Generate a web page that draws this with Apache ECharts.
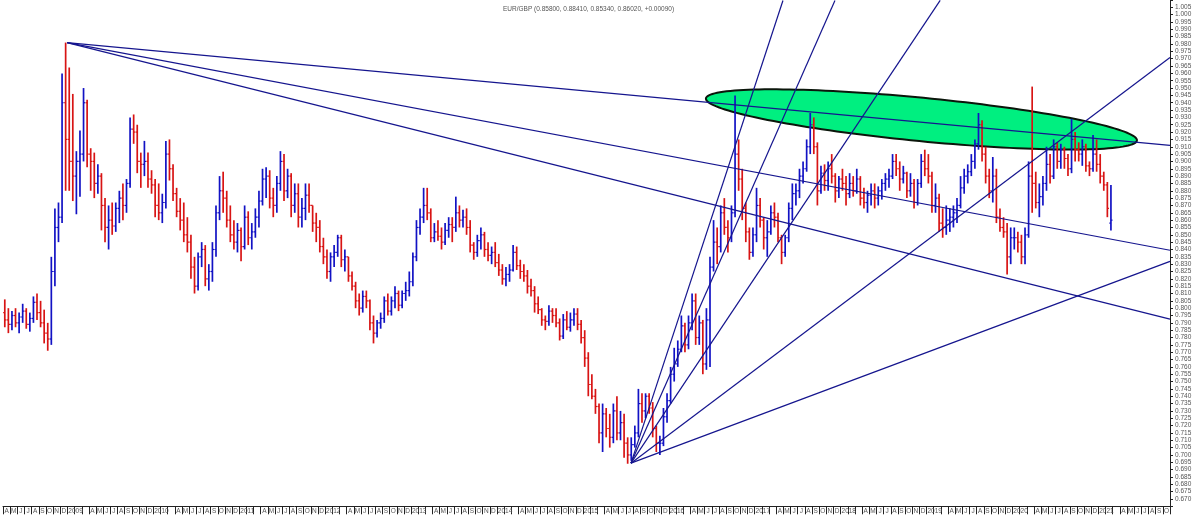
<!DOCTYPE html>
<html><head><meta charset="utf-8">
<script src="https://cdn.jsdelivr.net/npm/echarts@6/dist/echarts.min.js"></script>
<style>html,body{margin:0;padding:0;background:#fff;}#c{width:1195px;height:515px;}</style>
</head><body><div id="c"></div>
<script>
// ---------- DATA ----------
const titleText = 'EUR/GBP (0.85800, 0.88410, 0.85340, 0.86020, +0.00090)';
const firstYear = 2008, firstMonth = 4;   // April 2008
const monthCount = 163;                   // Apr 2008 .. Oct 2021
const monthLetters = ['J','F','M','A','M','J','J','A','S','O','N','D'];

// half-monthly bars from Apr 2008 to Feb 2021
const opens = [
.797,.792,.789,.795,.790,.794,.798,.789,.793,.804,.797,.790,.783,.779,.825,.855,.862,.940,
.915,.900,.890,.900,.905,.940,.905,.900,.885,.890,.870,.855,.860,.856,.868,.875,.870,.885,.922,.920,.900,.898,.900,.888,
.884,.870,.865,.872,.905,.895,.878,.866,.860,.850,.845,.828,.815,.835,.840,.820,.825,.840,.865,.880,.875,.860,.850,.845,
.853,.842,.862,.848,.852,.862,.873,.888,.890,.875,.870,.885,.900,.880,.890,.870,.878,.862,.868,.877,.870,.858,.855,.842,
.835,.825,.835,.838,.848,.833,.835,.822,.815,.805,.800,.808,.805,.790,.783,.790,.793,.805,.798,.805,.810,.802,.810,.812,
.818,.835,.855,.862,.870,.865,.848,.852,.849,.845,.853,.857,.855,.865,.860,.862,.855,.843,.838,.846,.850,.840,.836,.838,
.831,.826,.820,.823,.826,.838,.829,.825,.822,.815,.812,.803,.799,.792,.791,.798,.795,.790,.781,.792,.787,.792,.796,.789,
.780,.766,.748,.740,.733,.715,.728,.718,.712,.730,.715,.722,.708,.700,.707,.715,.735,.730,.740,.732,.718,.708,.708,.726,
.737,.755,.762,.772,.788,.775,.790,.805,.780,.790,.762,.792,.828,.845,.842,.865,.855,.848,.865,.905,.888,.868,.852,.838,
.850,.870,.860,.848,.852,.865,.862,.848,.838,.848,.868,.878,.880,.890,.895,.910,.925,.910,.880,.892,.887,.895,.890,.880,
.888,.885,.878,.885,.880,.888,.875,.872,.877,.880,.875,.880,.885,.888,.890,.900,.895,.888,.892,.880,.885,.872,.885,.900,
.895,.890,.870,.875,.858,.855,.860,.862,.865,.870,.882,.890,.893,.900,.912,.925,.905,.890,.880,.890,.862,.855,.852,.835,
.848,.848,.845,.835,.850,.890,.885,.872,.876,.885,.898,.890,.910,.900,.908,.902,.895,.915,.908,.905,.910,.897,.895,.905,
.898,.890,.884,.858
];
const highs = [
.806,.800,.798,.800,.797,.803,.800,.797,.808,.810,.805,.799,.790,.835,.868,.872,.960,.981,
.964,.946,.907,.921,.950,.942,.909,.906,.898,.892,.875,.870,.872,.872,.880,.885,.888,.930,.932,.925,.906,.914,.906,.894,
.888,.885,.878,.914,.915,.898,.882,.875,.872,.862,.850,.835,.838,.845,.843,.830,.845,.870,.890,.893,.880,.870,.860,.858,
.855,.870,.866,.858,.868,.880,.895,.896,.894,.882,.890,.907,.905,.895,.892,.885,.885,.875,.885,.885,.870,.865,.860,.848,
.840,.838,.843,.850,.850,.840,.835,.825,.818,.810,.812,.812,.806,.795,.792,.797,.808,.810,.808,.815,.812,.812,.818,.825,
.838,.860,.868,.882,.882,.868,.858,.860,.855,.858,.862,.862,.876,.870,.867,.868,.860,.845,.850,.855,.852,.845,.842,.845,
.837,.830,.828,.830,.843,.842,.833,.830,.826,.820,.815,.808,.800,.795,.802,.800,.800,.793,.796,.798,.797,.800,.800,.792,
.785,.770,.755,.745,.735,.735,.732,.728,.735,.740,.730,.728,.712,.712,.720,.745,.742,.742,.742,.736,.720,.713,.732,.742,
.760,.773,.778,.795,.790,.795,.810,.810,.795,.792,.800,.835,.860,.855,.870,.875,.860,.870,.945,.915,.895,.872,.855,.855,
.882,.875,.862,.860,.870,.872,.865,.850,.850,.872,.885,.885,.895,.900,.915,.933,.930,.913,.897,.898,.900,.905,.892,.890,
.895,.890,.892,.890,.895,.890,.882,.880,.885,.885,.883,.888,.892,.895,.905,.905,.900,.897,.893,.892,.888,.888,.905,.908,
.905,.893,.885,.878,.868,.870,.868,.870,.875,.890,.895,.898,.905,.915,.933,.928,.910,.895,.903,.895,.868,.862,.858,.855,
.855,.852,.850,.855,.900,.951,.893,.885,.890,.910,.905,.915,.913,.912,.910,.905,.929,.920,.913,.915,.912,.900,.918,.915,
.905,.893,.886,.884
];
const lows = [
.787,.783,.785,.787,.783,.790,.786,.784,.790,.792,.787,.776,.771,.775,.815,.845,.858,.880,
.880,.873,.864,.876,.900,.896,.880,.875,.878,.853,.845,.840,.850,.852,.858,.860,.865,.882,.912,.892,.882,.890,.882,.878,
.862,.860,.858,.868,.887,.873,.862,.853,.845,.838,.820,.810,.812,.828,.815,.812,.818,.835,.860,.865,.855,.845,.840,.838,
.832,.840,.843,.840,.848,.855,.870,.875,.868,.862,.865,.880,.873,.875,.862,.865,.855,.855,.860,.865,.852,.845,.838,.830,
.820,.818,.828,.835,.828,.825,.818,.812,.800,.795,.797,.800,.785,.776,.780,.786,.790,.795,.795,.800,.798,.800,.805,.808,
.815,.832,.850,.858,.860,.845,.845,.846,.840,.843,.848,.845,.852,.855,.855,.850,.838,.833,.835,.840,.835,.832,.830,.828,
.822,.816,.815,.818,.825,.826,.820,.818,.810,.808,.797,.796,.788,.785,.788,.790,.787,.778,.779,.785,.784,.788,.785,.776,
.760,.740,.738,.728,.708,.702,.712,.705,.708,.710,.710,.698,.694,.696,.705,.712,.722,.725,.728,.712,.702,.700,.706,.722,
.735,.750,.760,.770,.770,.772,.785,.775,.775,.755,.758,.760,.825,.830,.838,.850,.838,.845,.862,.880,.860,.845,.833,.835,
.845,.855,.840,.835,.850,.855,.845,.830,.835,.845,.860,.870,.875,.885,.893,.905,.905,.870,.878,.880,.880,.885,.872,.875,
.880,.870,.875,.876,.878,.870,.868,.865,.870,.868,.870,.874,.880,.882,.888,.890,.880,.885,.875,.876,.868,.870,.882,.890,
.885,.865,.865,.852,.848,.850,.852,.855,.858,.868,.878,.885,.890,.895,.908,.900,.885,.875,.872,.858,.852,.848,.823,.830,
.840,.838,.830,.830,.848,.865,.868,.862,.870,.880,.885,.888,.895,.895,.895,.890,.892,.900,.900,.897,.893,.890,.893,.893,
.885,.880,.862,.853
];
const closes = [
.792,.789,.795,.790,.794,.798,.789,.793,.804,.797,.790,.783,.779,.825,.855,.862,.940,.915,
.900,.890,.900,.905,.940,.905,.900,.885,.890,.870,.855,.860,.856,.868,.875,.870,.885,.922,.920,.900,.898,.900,.888,.884,
.870,.865,.872,.905,.895,.878,.866,.860,.850,.845,.828,.815,.835,.840,.820,.825,.840,.865,.880,.875,.860,.850,.845,.853,
.842,.862,.848,.852,.862,.873,.888,.890,.875,.870,.885,.900,.880,.890,.870,.878,.862,.868,.877,.870,.858,.855,.842,.835,
.825,.835,.838,.848,.833,.835,.822,.815,.805,.800,.808,.805,.790,.783,.790,.793,.805,.798,.805,.810,.802,.810,.812,.818,
.835,.855,.862,.870,.865,.848,.852,.849,.845,.853,.857,.855,.865,.860,.862,.855,.843,.838,.846,.850,.840,.836,.838,.831,
.826,.820,.823,.826,.838,.829,.825,.822,.815,.812,.803,.799,.792,.791,.798,.795,.790,.781,.792,.787,.792,.796,.789,.780,
.766,.748,.740,.733,.715,.728,.718,.712,.730,.715,.722,.708,.700,.707,.715,.735,.730,.740,.732,.718,.708,.708,.726,.737,
.755,.762,.772,.788,.775,.790,.805,.780,.790,.762,.792,.828,.845,.842,.865,.855,.848,.865,.905,.888,.868,.852,.838,.850,
.870,.860,.848,.852,.865,.862,.848,.838,.848,.868,.878,.880,.890,.895,.910,.925,.910,.880,.892,.887,.895,.890,.880,.888,
.885,.878,.885,.880,.888,.875,.872,.877,.880,.875,.880,.885,.888,.890,.900,.895,.888,.892,.880,.885,.872,.885,.900,.895,
.890,.870,.875,.858,.855,.860,.862,.865,.870,.882,.890,.893,.900,.912,.925,.905,.890,.880,.890,.862,.855,.852,.835,.848,
.848,.845,.835,.850,.890,.885,.872,.876,.885,.898,.890,.910,.900,.908,.902,.895,.915,.908,.905,.910,.897,.895,.905,.898,
.890,.884,.868,.860
];

// annotation lines (x in months from Apr 2008, y in price)
const peakPivot = [8.94, 0.981];
const peakFanEnds = [[163.0, 0.9109], [163.0, 0.8395], [163.0, 0.7925]];
const lowPivot = [87.71, 0.6944];
const lowFanEnds = [[108.94, 1.0097], [116.2, 1.0097], [130.9, 1.0097], [163.0, 0.9708], [163.0, 0.8319]];
const ellipseLeft = [98.18, 0.9429];
const ellipseRight = [158.38, 0.9143];
const ellipseHalfHeight = 0.0148;

// ---------- CHART ----------
const UP = '#1212c4', DOWN = '#d81414', LINE = '#15158e';
const monthKeys = [];
for (let k = 0; k < monthCount; k++) {
  const mm = firstMonth - 1 + k;
  monthKeys.push((firstYear + Math.floor(mm / 12)) + '-' + (mm % 12 + 1));
}
const barData = opens.map((o, i) => [i / 2 + 0.25, o, highs[i], lows[i], closes[i]]);

const chart = echarts.init(document.getElementById('c'), null, {renderer: 'canvas'});
const font = 'Liberation Sans, Arial, sans-serif';

const lineSeries = [];
peakFanEnds.forEach(e => lineSeries.push([peakPivot, e]));
lowFanEnds.forEach(e => lineSeries.push([lowPivot, e]));

chart.setOption({
  animation: false,
  backgroundColor: '#fff',
  title: {
    text: titleText, left: 498, top: 1,
    textStyle: {fontSize: 6.5, fontWeight: 'normal', color: '#555', fontFamily: font}
  },
  grid: {left: 3, right: 25, top: 0, bottom: 8.7, containLabel: false},
  xAxis: [{
    type: 'category', data: monthKeys, boundaryGap: true, position: 'bottom',
    axisLine: {show: true, onZero: false, lineStyle: {color: '#222', width: 1}},
    axisTick: {show: true, interval: 0, length: 8, lineStyle: {color: '#222', width: 1}},
    axisLabel: {
      interval: 0, margin: 1, fontSize: 6.5, color: '#555', fontFamily: font,
      formatter: function (v) {
        const parts = v.split('-'); const m = +parts[1];
        if (m === 1) return '{y|' + parts[0] + '}';
        if (m === 2 || m === 3) return '';
        return monthLetters[m - 1];
      },
      rich: {y: {fontSize: 6.5, color: '#555', fontFamily: font, padding: [0, 0, 0, 9]}}
    },
    splitLine: {show: false}
  }, {
    type: 'value', min: 0, max: monthCount, show: false, gridIndex: 0,
    axisLine: {show: false, onZero: false}
  }],
  yAxis: {
    type: 'value', position: 'right', min: 0.665, max: 1.010, interval: 0.005,
    axisLine: {show: true, onZero: false, lineStyle: {color: '#222', width: 1}},
    axisTick: {show: true, length: 3, lineStyle: {color: '#222'}},
    splitLine: {show: false},
    axisLabel: {
      fontSize: 6.5, color: '#555', margin: 5, fontFamily: font,
      formatter: v => (v < 0.6675 || v > 1.0075) ? '' : v.toFixed(3)
    }
  },
  series: [{
    type: 'custom', xAxisIndex: 1, z: 1, silent: true,
    data: [[ellipseLeft[0], ellipseLeft[1]]],
    renderItem: function (params, api) {
      const p1 = api.coord(ellipseLeft), p2 = api.coord(ellipseRight);
      const cx = (p1[0] + p2[0]) / 2, cy = (p1[1] + p2[1]) / 2;
      const a = Math.hypot(p2[0] - p1[0], p2[1] - p1[1]) / 2;
      const ang = Math.atan2(p2[1] - p1[1], p2[0] - p1[0]);
      const b = Math.abs(api.size([0, ellipseHalfHeight])[1]);
      const pts = [];
      for (let k = 0; k < 160; k++) {
        const t = k / 160 * Math.PI * 2;
        const ex = a * Math.cos(t), ey = b * Math.sin(t);
        pts.push([cx + ex * Math.cos(ang) - ey * Math.sin(ang), cy + ex * Math.sin(ang) + ey * Math.cos(ang)]);
      }
      return {type: 'polygon', shape: {points: pts}, style: {fill: '#00ef80', stroke: '#0b160b', lineWidth: 2}};
    }
  }, {
    type: 'custom', xAxisIndex: 1, z: 2, silent: true,
    data: barData,
    encode: {x: 0, y: [1, 2, 3, 4]},
    renderItem: function (params, api) {
      const x = api.value(0), o = api.value(1), h = api.value(2), l = api.value(3), c = api.value(4);
      const pH = api.coord([x, h]), pL = api.coord([x, l]), pO = api.coord([x, o]), pC = api.coord([x, c]);
      const col = c >= o ? UP : DOWN;
      return {type: 'group', children: [
        {type: 'line', shape: {x1: pH[0], y1: pH[1], x2: pL[0], y2: pL[1]}, style: {stroke: col, lineWidth: 1.7}},
        {type: 'line', shape: {x1: pO[0] - 1.6, y1: pO[1], x2: pO[0], y2: pO[1]}, style: {stroke: col, lineWidth: 1.2}},
        {type: 'line', shape: {x1: pC[0], y1: pC[1], x2: pC[0] + 1.6, y2: pC[1]}, style: {stroke: col, lineWidth: 1.2}}
      ]};
    }
  }].concat(lineSeries.map(d => ({
    type: 'line', xAxisIndex: 1, z: 3, silent: true, data: d,
    symbol: 'none', lineStyle: {color: LINE, width: 1.2}
  })))
});
</script></body></html>
